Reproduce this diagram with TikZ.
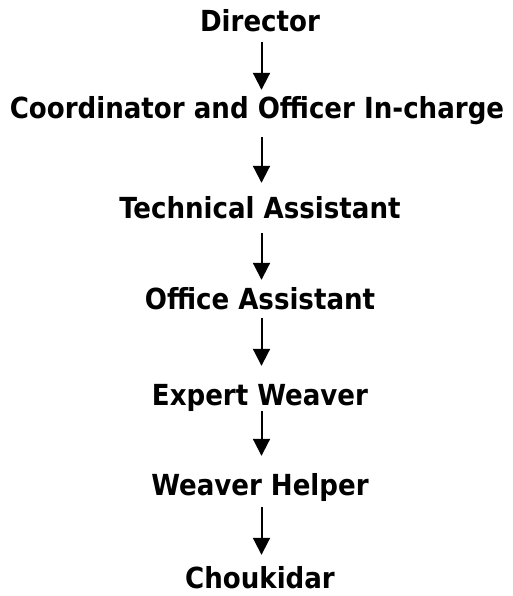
\documentclass[tikz,border=0pt]{standalone}
\usepackage{fontspec}
\setmainfont{DejaVu Sans Condensed}
\usetikzlibrary{arrows.meta}

\tikzset{
  post/.style={anchor=base,inner sep=0pt,text height=21pt,text depth=6pt,
    font=\fontsize{29}{34}\selectfont\bfseries},
  down/.style={line width=2pt,-{Triangle[width=17pt,length=17pt]}}
}

\begin{document}
\begin{tikzpicture}[x=1pt,y=1pt]
\useasboundingbox (0,0) rectangle (513,-596);

%staff posts, top to bottom
\node[post] (director) at (260,-32) {Director};
\node[post] (coord) at (257,-119) {Coordinator and Officer In-charge};
\node[post] (tech) at (260,-218) {Technical Assistant};
\node[post] (office) at (260,-309) {Office Assistant};
\node[post] (expert) at (260,-405) {Expert Weaver};
\node[post] (helper) at (260,-495) {Weaver Helper};
\node[post] (chouk) at (260,-588) {Choukidar};

%arrows between the posts
\draw[down,shorten <=4pt,shorten >=8pt] ([xshift=1.5pt]director.south) -- ([xshift=1.5pt]director.south |- coord.north);
\draw[down,shorten <=12pt,shorten >=14pt] ([xshift=4.5pt]coord.south) -- ([xshift=4.5pt]coord.south |- tech.north);
\draw[down,shorten <=9pt,shorten >=8pt] ([xshift=1.5pt]tech.south) -- ([xshift=1.5pt]tech.south |- office.north);
\draw[down,shorten <=3pt,shorten >=18pt] ([xshift=1.5pt]office.south) -- ([xshift=1.5pt]office.south |- expert.north);
\draw[down,shorten >=18pt] ([xshift=1.5pt]expert.south) -- ([xshift=1.5pt]expert.south |- helper.north);
\draw[down,shorten <=6pt,shorten >=12pt] ([xshift=1.5pt]helper.south) -- ([xshift=1.5pt]helper.south |- chouk.north);

\end{tikzpicture}
\end{document}
